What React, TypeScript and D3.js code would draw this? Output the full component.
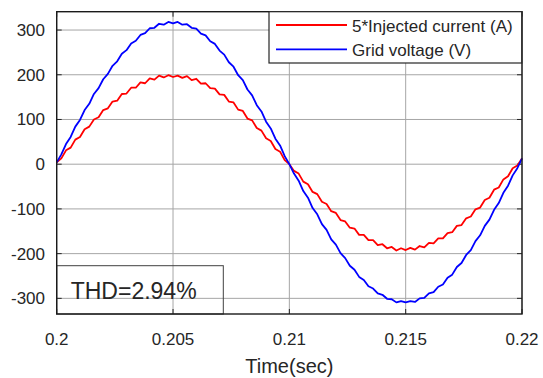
import React from "react";
import * as d3 from "d3";

const tStart = 0.2;
const tStep = 0.0002;

const gridVoltage = [
  4, 22, 45, 61, 84, 99, 121, 135, 157, 170, 190, 202, 220, 230, 247, 255, 270, 276, 289, 293, 304, 305, 314, 312, 318, 315,
  318, 312, 313, 305, 303, 292, 288, 275, 269, 254, 245, 228, 218, 199, 188, 167, 154, 132, 118, 95, 80, 57, 42, 18, 0,
  -21, -37, -60, -75, -98, -112, -134, -147, -168, -180, -199, -210, -227, -236, -252, -259, -273, -278, -289, -292, -301, -302, -309, -306, -309,
  -306, -308, -300, -299, -289, -286, -274, -269, -254, -247, -230, -221, -203, -192, -172, -159, -138, -124, -102, -87, -64, -48, -25, -9, 13,
];

const injectedCurrent = [
  4, 13, 31, 37, 55, 61, 78, 84, 100, 105, 121, 125, 140, 142, 157, 158, 171, 171, 183, 181, 192, 189, 198, 194, 199, 195,
  198, 193, 197, 188, 191, 180, 181, 170, 169, 156, 155, 140, 138, 122, 119, 102, 98, 81, 75, 58, 52, 34, 28, 9, 0,
  -15, -21, -39, -45, -62, -67, -84, -89, -105, -109, -125, -128, -142, -144, -158, -158, -170, -170, -181, -179, -188, -185, -193, -188, -192,
  -187, -191, -183, -186, -176, -177, -166, -166, -154, -152, -138, -136, -121, -117, -101, -97, -80, -75, -57, -52, -34, -27, -9, -3, 13,
];

const xTicks = [0.2, 0.205, 0.21, 0.215, 0.22];
const xTickLabels = ["0.2", "0.205", "0.21", "0.215", "0.22"];
const yTicks = [-300, -200, -100, 0, 100, 200, 300];
const legendLabels = ["5*Injected current (A)", "Grid voltage (V)"];
const seriesColors = ["#ff0000", "#0000ff"];
const xLabel = "Time(sec)";
const thdText = "THD=2.94%";

const FONT = "'Liberation Sans', Arial, Helvetica, sans-serif";
const TXT = "#262626";

export default function App() {
  const L = 56.7, R = 522, T = 11.7, B = 314;
  const x = d3.scaleLinear().domain([0.2, 0.22]).range([L, R]);
  const y = d3.scaleLinear().domain([-335, 341]).range([B, T]);

  const mk = (vals: number[]) =>
    d3
      .line<number>()
      .x((_, i) => x(tStart + i * tStep))
      .y((v) => y(v))(vals) as string;

  const series = [injectedCurrent, gridVoltage];

  const legX = 269, legY = T, legW = 521.7 - 269, legH = 63 - T;
  const legRows = [25, 49.3];

  return (
    <svg width={543} height={378} style={{ position: "absolute", left: 0, top: 0, background: "#fff" }}>
      <rect x={0} y={0} width={543} height={378} fill="#fff" />
      {/* grid */}
      {xTicks.map((t, i) => (
        <line key={"gx" + i} x1={x(t)} x2={x(t)} y1={T} y2={B} stroke="#a6a6a6" strokeWidth={1} />
      ))}
      {yTicks.map((t, i) => (
        <line key={"gy" + i} x1={L} x2={R} y1={y(t)} y2={y(t)} stroke="#a6a6a6" strokeWidth={1} />
      ))}
      {/* inward ticks */}
      {xTicks.map((t, i) => (
        <g key={"tx" + i}>
          <line x1={x(t)} x2={x(t)} y1={B} y2={B - 5} stroke="#262626" strokeWidth={1} />
          <line x1={x(t)} x2={x(t)} y1={T} y2={T + 5} stroke="#262626" strokeWidth={1} />
        </g>
      ))}
      {yTicks.map((t, i) => (
        <g key={"ty" + i}>
          <line x1={L} x2={L + 5} y1={y(t)} y2={y(t)} stroke="#262626" strokeWidth={1} />
          <line x1={R} x2={R - 5} y1={y(t)} y2={y(t)} stroke="#262626" strokeWidth={1} />
        </g>
      ))}
      {/* series */}
      {series.map((s, i) => (
        <path key={"s" + i} d={mk(s)} fill="none" stroke={seriesColors[i]} strokeWidth={1.8} strokeLinejoin="round" />
      ))}
      {/* THD box */}
      <rect x={L} y={265.7} width={223.3 - L} height={B - 265.7} fill="none" stroke="#404040" strokeWidth={1} />
      <text x={70.7} y={299.3} fontFamily={FONT} fontSize={23} fill={TXT}>{thdText}</text>
      {/* axes border */}
      <rect x={L} y={T} width={R - L} height={B - T} fill="none" stroke="#1a1a1a" strokeWidth={1.4} />
      {/* tick labels */}
      {xTicks.map((t, i) => (
        <text key={"xl" + i} x={x(t)} y={345} textAnchor="middle" fontFamily={FONT} fontSize={17} fill={TXT}>
          {xTickLabels[i]}
        </text>
      ))}
      {yTicks.map((t, i) => (
        <text key={"yl" + i} x={45} y={y(t)} dy="0.35em" textAnchor="end" fontFamily={FONT} fontSize={17} fill={TXT}>
          {t < 0 ? "-" + Math.abs(t) : String(t)}
        </text>
      ))}
      <text x={(L + R) / 2} y={373} textAnchor="middle" fontFamily={FONT} fontSize={20} fill={TXT}>{xLabel}</text>
      {/* legend */}
      <rect x={legX} y={legY} width={legW} height={legH} fill="#fff" stroke="#262626" strokeWidth={1.2} />
      {legendLabels.map((lab, i) => (
        <g key={"lg" + i}>
          <line x1={276} x2={347} y1={legRows[i]} y2={legRows[i]} stroke={seriesColors[i]} strokeWidth={1.8} />
          <text x={352} y={legRows[i] + 1} dy="0.35em" fontFamily={FONT} fontSize={17} fill={TXT}>{lab}</text>
        </g>
      ))}
    </svg>
  );
}
